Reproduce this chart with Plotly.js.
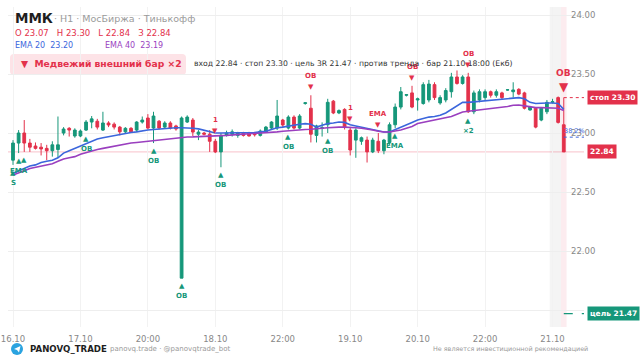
<!DOCTYPE html>
<html><head><meta charset="utf-8">
<script src="https://cdn.plot.ly/plotly-3.0.1.min.js"></script>
<style>html,body{margin:0;padding:0;background:#fff}#c{width:640px;height:360px}</style>
</head><body><div id="c"></div>
<script>
// ---- data ----
const tickIdx = [0,12,24,36,48,60,72,84,96];
const tickText = ['16.10','17.10','20:00','18.10','22:00','19.10','20.10','22:00','21.10'];
const yTickVals = [21.5,22,22.5,23,23.5,24];
const yTickText = ['','22.00','22.50','23.00','23.50','24.00'];
const openV = [22.77,22.915,23.0,22.915,22.89,22.88,22.87,22.85,22.86,23.0,23.04,22.975,22.975,23.025,23.093,23.1,23.025,23.085,23.075,23.05,23.01,23.04,23.025,23.093,23.127,23.042,23.1,23.05,23.085,23.06,21.77,23.093,23.11,22.99,23.0,22.99,22.93,22.84,22.98,22.99,22.98,23.0,23.0,23.0,22.98,23.008,23.042,23.042,23.11,23.042,23.135,23.042,23.25,23.21,22.98,23.04,23.07,23.27,23.17,23.2,23.025,22.94,22.93,22.94,22.84,22.93,22.85,22.92,23.07,23.22,23.32,23.34,23.28,23.25,23.28,23.41,23.255,23.28,23.35,23.475,23.42,23.475,23.18,23.28,23.3,23.35,23.32,23.34,23.365,23.35,23.37,23.34,23.195,23.21,23.11,23.18,23.26,23.3,23.07];
const highV = [22.94,23.025,23.11,22.95,22.92,22.915,22.9,22.93,23.14,23.05,23.05,23.04,23.03,23.11,23.144,23.12,23.18,23.1,23.09,23.06,23.05,23.05,23.1,23.14,23.16,23.18,23.11,23.1,23.1,23.07,23.14,23.15,23.127,23.025,23.01,23.025,22.95,23.0,23.02,23.03,23.01,23.01,23.01,23.01,23.03,23.06,23.1,23.28,23.12,23.15,23.15,23.16,23.26,23.32,23.07,23.09,23.29,23.28,23.2,23.21,23.05,23.04,22.97,22.97,22.96,23.0,22.95,23.09,23.25,23.39,23.33,23.40,23.3,23.43,23.45,23.43,23.32,23.38,23.51,23.53,23.49,23.51,23.36,23.37,23.37,23.36,23.37,23.35,23.37,23.43,23.38,23.35,23.23,23.22,23.22,23.28,23.29,23.31,23.30];
const lowV = [22.73,22.83,22.84,22.84,22.86,22.81,22.77,22.8,22.79,22.98,22.97,22.96,22.965,23.017,23.04,23.03,23.017,23.05,23.03,22.98,23.0,23.0,23.01,23.08,23.03,22.915,23.03,23.04,23.03,23.02,21.77,23.085,22.975,22.94,22.98,22.84,22.83,22.71,22.97,22.97,22.96,22.97,22.97,22.97,22.97,23.0,23.03,23.025,23.05,23.03,23.03,23.03,23.24,22.92,22.92,22.97,23.0,23.16,23.16,23.03,22.81,22.79,22.9,22.75,22.83,22.83,22.82,22.9,23.04,23.2,23.31,23.21,23.19,23.24,23.26,23.28,23.24,23.26,23.3,23.41,23.41,23.17,23.16,23.26,23.28,23.3,23.3,23.28,23.36,23.3,23.32,23.2,23.19,23.04,23.1,23.16,23.25,23.08,22.84];
const closeV = [22.915,23.0,22.915,22.88,22.87,22.865,22.85,22.9,22.9,23.034,23.025,23.025,23.017,23.093,23.12,23.05,23.085,23.068,23.05,23.01,23.04,23.01,23.093,23.11,23.042,23.144,23.042,23.085,23.042,23.034,23.127,23.135,23.008,23.008,22.99,22.93,22.84,22.98,23.0,23.01,23.0,22.98,22.975,22.985,23.017,23.05,23.093,23.144,23.068,23.135,23.042,23.144,23.256,22.99,23.06,23.045,23.26,23.17,23.19,23.05,22.856,23.025,22.96,22.84,22.94,22.85,22.94,23.07,23.22,23.35,23.325,23.22,23.29,23.41,23.415,23.3,23.3,23.36,23.475,23.42,23.475,23.18,23.34,23.35,23.35,23.32,23.35,23.3,23.366,23.365,23.33,23.21,23.22,23.05,23.21,23.26,23.265,23.09,22.84];
const ema20 = [22.66,22.68,22.70,22.72,22.73,22.75,22.76,22.77,22.79,22.83,22.85,22.87,22.89,22.91,22.93,22.95,22.96,22.97,22.98,22.99,23.0,23.005,23.01,23.02,23.025,23.03,23.035,23.04,23.04,23.045,23.045,23.045,23.04,23.035,23.025,23.015,23.0,23.0,23.0,23.0,23.0,23.0,23.0,23.005,23.01,23.015,23.03,23.045,23.05,23.06,23.07,23.075,23.08,23.075,23.05,23.065,23.08,23.085,23.093,23.09,23.07,23.06,23.05,23.035,23.025,23.015,23.008,23.008,23.03,23.05,23.07,23.09,23.11,23.125,23.135,23.14,23.15,23.17,23.2,23.23,23.26,23.26,23.265,23.27,23.275,23.28,23.285,23.29,23.295,23.3,23.3,23.29,23.26,23.25,23.255,23.255,23.255,23.25,23.20];
const ema40 = [22.645,22.66,22.68,22.70,22.71,22.72,22.73,22.74,22.76,22.78,22.79,22.80,22.82,22.835,22.85,22.86,22.87,22.88,22.89,22.9,22.91,22.915,22.92,22.925,22.93,22.937,22.943,22.949,22.955,22.96,22.965,22.966,22.967,22.968,22.97,22.972,22.975,22.978,22.98,22.983,22.985,22.988,22.99,22.993,22.996,23.0,23.005,23.01,23.015,23.02,23.022,23.025,23.03,23.032,23.034,23.04,23.045,23.05,23.05,23.05,23.05,23.045,23.04,23.034,23.025,23.015,23.008,23.008,23.015,23.025,23.04,23.055,23.08,23.09,23.1,23.105,23.115,23.125,23.14,23.16,23.178,23.185,23.19,23.2,23.205,23.21,23.215,23.22,23.225,23.235,23.237,23.23,23.22,23.215,23.215,23.215,23.215,23.21,23.19];
const buySig = [0,1,2,13,25,30,37,49,56,68,81];
const buyLbl = ['S','EMA','','OB','OB','OB','OB','OB','OB','EMA','×2'];
const sellSig = [36,53,60,65,71,81];
const sellLbl = ['1','OB','1','EMA','OB','OB'];
const entry = 22.84, stop = 23.30, target = 21.47, fib382 = 22.965;
const lastIdx = 98;

// ---- styling helpers ----
const GREEN = '#16977a', RED = '#e3314b', BLUE = '#3b66dc', PURPLE = '#9a3fbf';
const L = 8, T = 7, W = 576, H = 320;
const px = x => (x - L) / W;
const py = y => (T + H - y) / H;
const idx = openV.map((_, i) => i);

const traces = [
  {type:'candlestick', x: idx, open: openV, high: highV, low: lowV, close: closeV,
   increasing:{line:{color:GREEN, width:1}, fillcolor:GREEN},
   decreasing:{line:{color:RED, width:1}, fillcolor:RED},
   whiskerwidth:0, hoverinfo:'skip', showlegend:false},
  {type:'scatter', mode:'lines', x: idx, y: ema20, line:{color:BLUE, width:1.6}, hoverinfo:'skip', showlegend:false},
  {type:'scatter', mode:'lines', x: idx, y: ema40, line:{color:PURPLE, width:1.6}, hoverinfo:'skip', showlegend:false}
];

const ann = [];
const A = (o) => ann.push(Object.assign({showarrow:false, xanchor:'center', yanchor:'middle'}, o));
// signals
buySig.forEach((i, k) => {
  A({x:i, y:lowV[i], xref:'x', yref:'y', text:'▲', yshift:-8, font:{size:7, color:GREEN}});
  if (buyLbl[k]) A({x:i, y:lowV[i], xref:'x', yref:'y', text:buyLbl[k], yshift:-18, font:{size:7, color:GREEN, weight:'bold'}});
});
sellSig.forEach((i, k) => {
  A({x:i, y:highV[i], xref:'x', yref:'y', text:'▼', yshift:8, font:{size:7, color:RED}});
  A({x:i, y:highV[i], xref:'x', yref:'y', text:sellLbl[k], yshift:19, font:{size:7, color:RED, weight:'bold'}});
});
A({x:lastIdx, y:highV[lastIdx], xref:'x', yref:'y', text:'▼', yshift:11, font:{size:12, color:RED}});
A({x:lastIdx, y:highV[lastIdx], xref:'x', yref:'y', text:'OB', yshift:25, font:{size:9, color:RED, weight:'bold'}});
// right labels
const lab = (y, t, bg) => A({x:px(587), y:y, xref:'paper', yref:'y', xanchor:'left', text:t, bgcolor:bg, borderpad:2,
  font:{size:7.5, color:'#fff', weight:'bold'}});
lab(stop, 'стоп ' + stop.toFixed(2), RED);
lab(entry, entry.toFixed(2), RED);
lab(target, 'цель ' + target.toFixed(2), GREEN);
A({x:lastIdx - 0.35, y:fib382, xref:'x', yref:'y', xanchor:'left', yanchor:'bottom', text:'38.2%', font:{size:6.5, color:BLUE}});
// header
A({x:px(13), y:py(18), xref:'paper', yref:'paper', xanchor:'left', text:'ММК', font:{size:13.5, color:'#1e1e1e', weight:'bold'}});
A({x:px(52), y:py(19), xref:'paper', yref:'paper', xanchor:'left', text:'· Н1 · МосБиржа · Тинькофф', font:{size:9.5, color:'#9a9a9a'}});
A({x:px(13), y:py(33), xref:'paper', yref:'paper', xanchor:'left', text:'О 23.07&nbsp;&nbsp;&nbsp;Н 23.30&nbsp;&nbsp;&nbsp;L 22.84&nbsp;&nbsp;&nbsp;З 22.84', font:{size:8.5, color:RED}});
A({x:px(13), y:py(45), xref:'paper', yref:'paper', xanchor:'left', text:'EMA 20&nbsp;&nbsp;23.20', font:{size:8, color:BLUE}});
A({x:px(103), y:py(45), xref:'paper', yref:'paper', xanchor:'left', text:'EMA 40&nbsp;&nbsp;23.19', font:{size:8, color:PURPLE}});
A({x:px(19), y:py(64), xref:'paper', yref:'paper', xanchor:'left', text:'▼&nbsp;&nbsp;Медвежий внешний бар ×2', font:{size:9.2, color:RED, weight:'bold'}});
A({x:px(192), y:py(63), xref:'paper', yref:'paper', xanchor:'left', text:'вход 22.84 · стоп 23.30 · цель 3R 21.47 · против тренда · бар 21.10 18:00 (Екб)', font:{size:7.7, color:'#333'}});
// footer
A({x:px(28), y:py(349), xref:'paper', yref:'paper', xanchor:'left', text:'PANOVQ_TRADE', font:{size:8.6, color:'#1e1e1e', weight:'bold'}});
A({x:px(108), y:py(349), xref:'paper', yref:'paper', xanchor:'left', text:'panovq.trade · @panovqtrade_bot', font:{size:7, color:'#999'}});
A({x:px(431), y:py(349), xref:'paper', yref:'paper', xanchor:'left', text:'Не является инвестиционной рекомендацией', font:{size:6.4, color:'#999'}});

// rounded rect helper (paper units)
function rrect(x0, y0, x1, y1, r) {
  const X = v => px(v).toFixed(5), Y = v => py(v).toFixed(5);
  return `M${X(x0+r)},${Y(y0)} L${X(x1-r)},${Y(y0)} Q${X(x1)},${Y(y0)} ${X(x1)},${Y(y0+r)} L${X(x1)},${Y(y1-r)} Q${X(x1)},${Y(y1)} ${X(x1-r)},${Y(y1)} L${X(x0+r)},${Y(y1)} Q${X(x0)},${Y(y1)} ${X(x0)},${Y(y1-r)} L${X(x0)},${Y(y0+r)} Q${X(x0)},${Y(y0)} ${X(x0+r)},${Y(y0)} Z`;
}
const xEnd = 101.6;
const shapes = [
  {type:'rect', xref:'x', yref:'paper', x0:95.5, x1:97.5, y0:0, y1:1, fillcolor:'rgba(0,0,0,0.045)', line:{width:0}, layer:'below'},
  {type:'rect', xref:'x', yref:'paper', x0:97.5, x1:98.5, y0:0, y1:1, fillcolor:'rgba(227,49,75,0.09)', line:{width:0}, layer:'below'},
  {type:'line', xref:'paper', yref:'y', x0:0, x1:1, y0:entry, y1:entry, line:{color:'rgba(227,49,75,0.3)', width:1}, layer:'below'},
  {type:'line', xref:'x', yref:'y', x0:lastIdx, x1:xEnd, y0:stop, y1:stop, line:{color:RED, width:1, dash:'dot'}},
  {type:'line', xref:'x', yref:'y', x0:lastIdx, x1:xEnd, y0:target, y1:target, line:{color:GREEN, width:1.2, dash:'dash'}},
  {type:'line', xref:'x', yref:'y', x0:lastIdx, x1:xEnd, y0:fib382, y1:fib382, line:{color:BLUE, width:1, dash:'dot'}},
  {type:'path', xref:'paper', yref:'paper', path:rrect(10, 54, 186, 75, 4), fillcolor:'#fde3e7', line:{width:0}, layer:'below'},
  {type:'circle', xref:'paper', yref:'paper', x0:px(11), x1:px(23), y0:py(355), y1:py(343), fillcolor:'#2aa3e0', line:{width:0}},
  {type:'path', xref:'paper', yref:'paper', path:`M${px(14)},${py(349)} L${px(20.5)},${py(346)} L${px(19)},${py(352.5)} L${px(17)},${py(350)} Z`, fillcolor:'#fff', line:{width:0}}
];

const layout = {
  width:640, height:360, margin:{l:L, r:640-L-W, t:T, b:360-T-H},
  paper_bgcolor:'#fff', plot_bgcolor:'#fff',
  font:{family:'DejaVu Sans, sans-serif', size:9, color:'#888'},
  showlegend:false, dragmode:false, hovermode:false,
  xaxis:{type:'linear', range:[-0.89, xEnd], tickmode:'array', tickvals:tickIdx, ticktext:tickText,
    showgrid:true, gridcolor:'#f2f2f2', zeroline:false, showline:false, ticks:'', ticklen:0, ticklabelstandoff:5,
    tickfont:{size:8.5, color:'#888'}, rangeslider:{visible:false}, fixedrange:true, automargin:false},
  yaxis:{side:'right', range:[21.356, 24.068], tickmode:'array', tickvals:yTickVals, ticktext:yTickText,
    showgrid:true, gridcolor:'#eeeeee', zeroline:false, showline:false, ticks:'', ticklen:0, ticklabelstandoff:-14,
    tickfont:{size:8.5, color:'#888'}, fixedrange:true, automargin:false},
  shapes:shapes, annotations:ann
};
Plotly.newPlot('c', traces, layout, {displayModeBar:false, staticPlot:true});
</script>
</body></html>
